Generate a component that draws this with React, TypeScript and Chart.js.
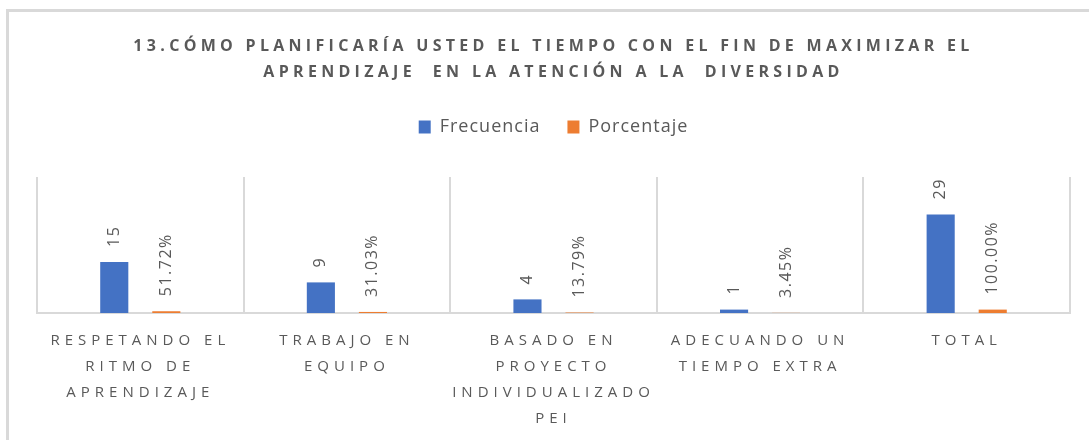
import React, { useEffect, useRef } from 'react';
import { Chart, registerables } from 'chart.js';

Chart.register(...registerables);

const titleLines = [
  '13.CÓMO PLANIFICARÍA USTED EL TIEMPO CON EL FIN DE MAXIMIZAR EL',
  'APRENDIZAJE  EN LA ATENCIÓN A LA  DIVERSIDAD',
];
const categories = [
  ['RESPETANDO EL', 'RITMO DE', 'APRENDIZAJE'],
  ['TRABAJO EN', 'EQUIPO'],
  ['BASADO EN', 'PROYECTO', 'INDIVIDUALIZADO', 'PEI'],
  ['ADECUANDO UN', 'TIEMPO EXTRA'],
  ['TOTAL'],
];
const seriesNames = ['Frecuencia', 'Porcentaje'];
const frecuencia = [15, 9, 4, 1, 29];
const porcentaje = [0.5172, 0.3103, 0.1379, 0.0345, 1.0];
const yMin = 0;
const yMax = 40;

const FONT = '"Open Sans", "DejaVu Sans", sans-serif';
const TEXT = '#595959';
const GRID = '#d9d9d9';

const spacingPlugin = {
  id: 'spacing',
  beforeLayout(chart: any) {
    const ctx = chart.ctx;
    const wrap = (box: any, sp: string, fixedHeight?: number) => {
      if (!box || box.__wrapped) return;
      box.__wrapped = true;
      if (typeof box.fit === 'function') {
        const f = box.fit.bind(box);
        box.fit = function () {
          ctx.save();
          ctx.letterSpacing = sp;
          f();
          ctx.restore();
          if (fixedHeight !== undefined) this.height = fixedHeight;
        };
      }
      if (typeof box.draw === 'function') {
        const d = box.draw.bind(box);
        box.draw = function (a: any) {
          ctx.save();
          ctx.letterSpacing = sp;
          d(a);
          ctx.restore();
        };
      }
    };
    wrap(chart.titleBlock, '4.3px');
    wrap(chart.legend, '1px', 86);
    wrap(chart.scales.x, '5px');
  },
};

const dataLabelPlugin = {
  id: 'dataLabels',
  afterDatasetsDraw(chart: any) {
    const ctx = chart.ctx;
    chart.data.datasets.forEach((ds: any, i: number) => {
      const meta = chart.getDatasetMeta(i);
      meta.data.forEach((el: any, j: number) => {
        const v = ds.data[j];
        const txt = i === 0 ? String(v) : (v * 100).toFixed(2) + '%';
        ctx.save();
        ctx.translate(el.x, el.y - 15);
        ctx.rotate(-Math.PI / 2);
        ctx.font = '16px ' + FONT;
        ctx.letterSpacing = '1.5px';
        ctx.fillStyle = TEXT;
        ctx.textAlign = 'left';
        ctx.textBaseline = 'middle';
        ctx.fillText(txt, 0, 0);
        ctx.restore();
      });
    });
  },
};

export default function App() {
  const ref = useRef<HTMLCanvasElement>(null);

  useEffect(() => {
    if (!ref.current) return;
    Chart.defaults.font.family = FONT;
    const chart = new Chart(ref.current, {
      type: 'bar',
      data: {
        labels: categories,
        datasets: [
          {
            label: seriesNames[0],
            data: frecuencia,
            backgroundColor: '#4472C4',
            borderWidth: 0,
            barPercentage: 0.54,
            categoryPercentage: 0.504,
          },
          {
            label: seriesNames[1],
            data: porcentaje,
            backgroundColor: '#ED7D31',
            borderWidth: 0,
            barPercentage: 0.54,
            categoryPercentage: 0.504,
          },
        ],
      },
      options: {
        responsive: false,
        animation: false,
        layout: { padding: { left: 28, right: 31, top: 0, bottom: 0 } },
        plugins: {
          title: {
            display: true,
            text: titleLines,
            color: TEXT,
            font: { family: FONT, size: 16, weight: 'bold', lineHeight: 26 / 16 },
            padding: { top: 21, bottom: 6 },
          },
          legend: {
            display: true,
            position: 'top',
            labels: {
              boxWidth: 12,
              boxHeight: 13,
              padding: 27,
              color: TEXT,
              font: { family: FONT, size: 18 },
            },
          },
          tooltip: { enabled: false },
        },
        scales: {
          x: {
            grid: { display: true, offset: true, color: GRID, lineWidth: 2, drawTicks: false },
            border: { display: true, color: GRID, width: 2 },
            ticks: {
              color: TEXT,
              font: { family: FONT, size: 15, lineHeight: 26 / 15 },
              padding: 15,
              maxRotation: 0,
              autoSkip: false,
            },
          },
          y: { display: false, min: yMin, max: yMax },
        },
      },
      plugins: [spacingPlugin, dataLabelPlugin],
    } as any);
    return () => chart.destroy();
  }, []);

  return (
    <div style={{ position: 'fixed', left: 0, top: 0, width: 1089, height: 440, overflow: 'hidden', background: '#fff' }}>
      <div
        style={{
          position: 'absolute',
          left: 6,
          top: 9,
          width: 1200,
          height: 500,
          borderTop: '3px solid ' + GRID,
          borderLeft: '3px solid ' + GRID,
        }}
      >
        <canvas ref={ref} width={1092} height={435} style={{ display: 'block' }} />
      </div>
    </div>
  );
}
